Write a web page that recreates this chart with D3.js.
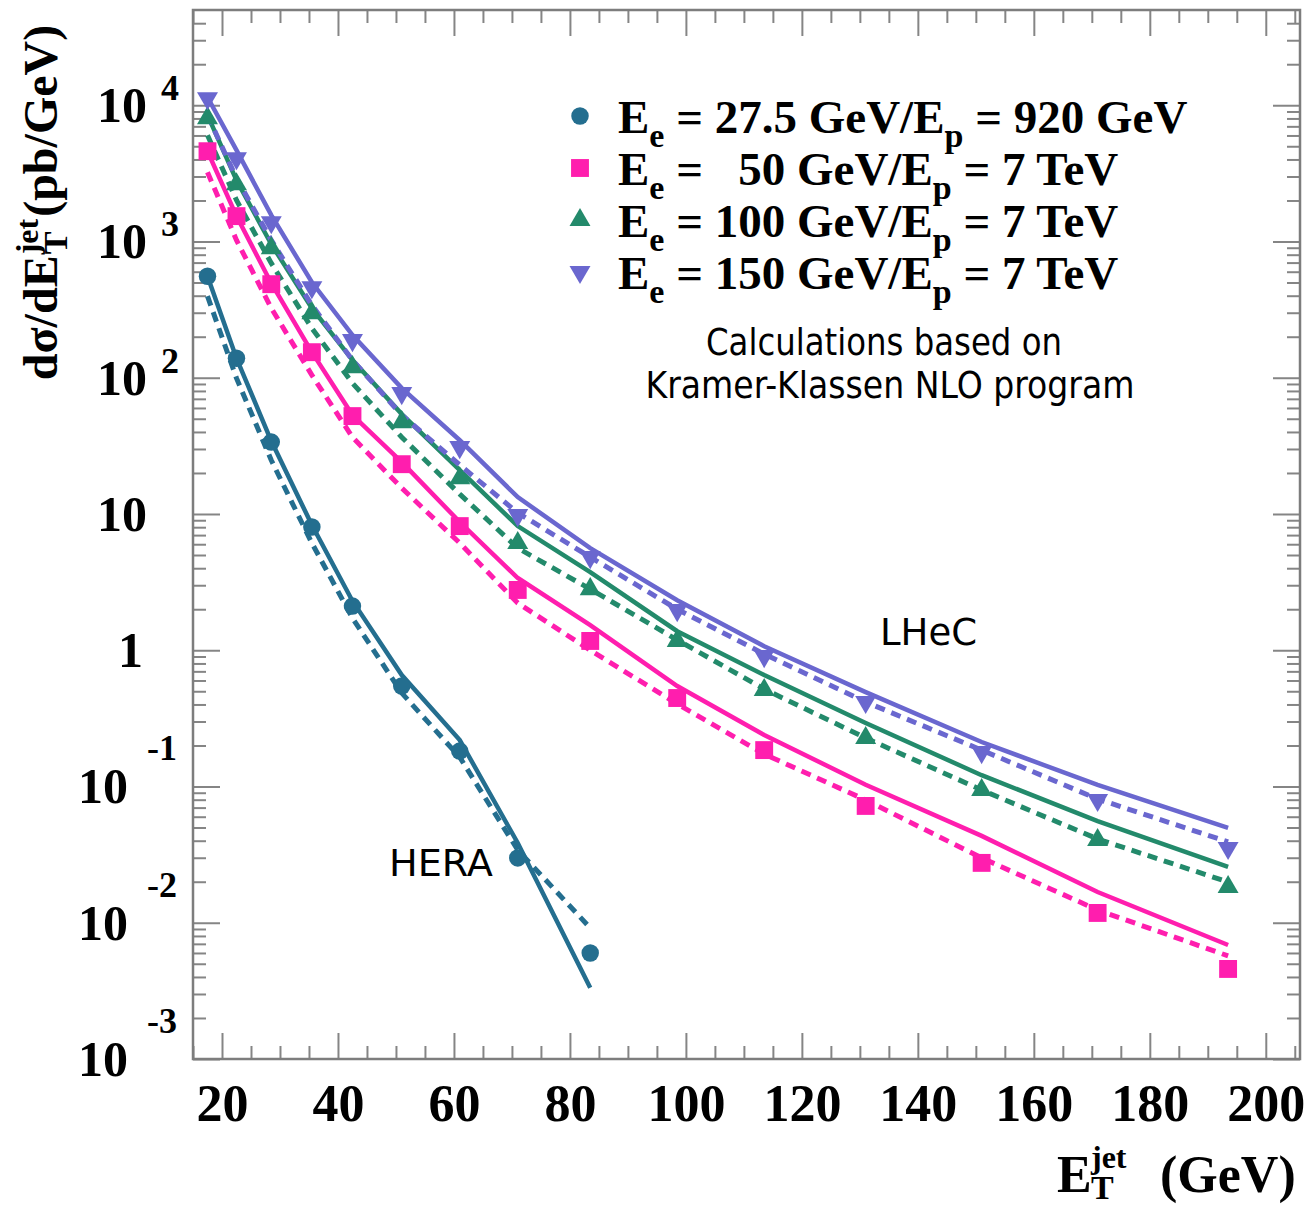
<!DOCTYPE html>
<html lang="en">
<head>
  <meta charset="UTF-8">
  <title>Inclusive jet cross section: HERA vs LHeC</title>
  <script src="https://d3js.org/d3.v7.min.js"></script>
  <style>
    body { margin: 0; background: #fff; }
    svg { display: block; }
    .serif { font-family: "Liberation Serif", "Times New Roman", serif; font-weight: bold; fill: #000; }
    .note { font-family: "DejaVu Sans", Verdana, sans-serif; fill: #000; }
    .axis line { stroke: #858585; stroke-width: 2; }
    .axis path { display: none; }
  </style>
</head>
<body>
<div id="chart"></div>
<script>
  // ---- data ----
  const etBins = [17.5, 22.5, 28.5, 35.5, 42.5, 51, 61, 71, 83.5, 98.5, 113.5, 131, 151, 171, 193.5];
  const heraBins = [17.5, 22.5, 28.5, 35.5, 42.5, 51, 61, 71, 83.5];

  // Ee = 27.5 GeV / Ep = 920 GeV (HERA)
  const heraSolid  = [556, 139, 34.3, 8.30, 2.30, 0.658, 0.219, 0.0385, 0.00333];
  const heraDashed = [397, 99.3, 24.8, 6.12, 1.72, 0.485, 0.164, 0.0342, 0.00916];
  const heraPoints = [556, 139, 33.7, 8.02, 2.11, 0.546, 0.182, 0.0299, 0.0060];

  // Ee = 50 GeV / Ep = 7 TeV
  const e50Solid  = [4598, 1535, 494, 154, 53.2, 24.0, 8.73, 3.39, 1.53, 0.546, 0.239, 0.103, 0.0434, 0.0168, 0.00687];
  const e50Dashed = [3224, 1023, 324, 104.5, 36.6, 15.5, 6.12, 2.22, 1.00, 0.404, 0.173, 0.0796, 0.0299, 0.0124, 0.00571];
  const e50Points = [4598, 1535, 486, 154, 52.3, 23.2, 8.15, 2.77, 1.17, 0.446, 0.185, 0.0720, 0.0275, 0.0118, 0.00458];

  // Ee = 100 GeV / Ep = 7 TeV
  const e100Solid  = [8450, 2816, 955, 324, 134.7, 54.1, 21.0, 8.15, 3.75, 1.38, 0.658, 0.292, 0.121, 0.0558, 0.0257];
  const e100Dashed = [6026, 2010, 693, 231, 91.3, 36.6, 14.0, 5.62, 2.81, 1.19, 0.519, 0.227, 0.0942, 0.0412, 0.0199];
  const e100Points = [8030, 2630, 893, 298, 119.6, 47.2, 18.3, 6.12, 2.81, 1.17, 0.511, 0.227, 0.0942, 0.0405, 0.0183];

  // Ee = 150 GeV / Ep = 7 TeV
  const e150Solid  = [11450, 4677, 1560, 502, 205.6, 83.9, 34.8, 13.3, 5.62, 2.33, 1.07, 0.493, 0.212, 0.1026, 0.0497];
  const e150Dashed = [8450, 2913, 1023, 341, 134.7, 53.2, 22.9, 10.2, 4.83, 2.00, 0.938, 0.417, 0.185, 0.0809, 0.0392];
  const e150Points = [11250, 4083, 1386, 462, 189, 77.1, 31.0, 9.82, 4.83, 1.97, 0.906, 0.417, 0.179, 0.0796, 0.0354];

  const eeLabels = ["27.5", "  50", "100", "150"];
  const epLabels = ["920 GeV", "7 TeV", "7 TeV", "7 TeV"];
  const xTicks = [20, 40, 60, 80, 100, 120, 140, 160, 180, 200];
  const yTicks = [1e-3, 1e-2, 1e-1, 1, 10, 1e2, 1e3, 1e4];

  const series = [
    {bins: heraBins, solid: heraSolid, dashed: heraDashed, points: heraPoints, color: "#246e8f", symbol: "circle"},
    {bins: etBins, solid: e50Solid, dashed: e50Dashed, points: e50Points, color: "#ff1eae", symbol: "square"},
    {bins: etBins, solid: e100Solid, dashed: e100Dashed, points: e100Points, color: "#238a6b", symbol: "up"},
    {bins: etBins, solid: e150Solid, dashed: e150Dashed, points: e150Points, color: "#6a67cf", symbol: "down"}
  ];

  // ---- layout ----
  const width = 1307, height = 1205;
  const plotL = 193, plotR = 1300, plotT = 10, plotB = 1059;

  const svg = d3.select("#chart").append("svg")
    .attr("width", width)
    .attr("height", height);

  const x = d3.scaleLinear().domain([15, 205.9]).range([plotL, plotR]);
  const y = d3.scaleLog().domain([1e-3, 5e4]).range([plotB, plotT]);

  // minor tick values
  const xMinor = d3.range(15, 206, 5).filter(v => v % 20 !== 0);
  const yMinor = [];
  for (let k = -3; k <= 4; k++) {
    for (let m = 2; m <= 9; m++) {
      const v = m * Math.pow(10, k);
      if (v < 5e4) yMinor.push(v);
    }
  }

  // ticks on all four sides, pointing inwards
  const axes = svg.append("g").attr("class", "axis");
  axes.append("g").attr("transform", `translate(0,${plotB})`)
    .call(d3.axisBottom(x).tickValues(xMinor).tickSize(-13).tickFormat(""));
  const xAx = axes.append("g").attr("transform", `translate(0,${plotB})`)
    .call(d3.axisBottom(x).tickValues(xTicks).tickSize(-26).tickPadding(0).tickFormat(d3.format("d")));
  xAx.selectAll("text")
    .attr("class", "serif")
    .attr("dy", null)
    .attr("y", 62)
    .style("font-size", "52px");
  axes.append("g").attr("transform", `translate(0,${plotT})`)
    .call(d3.axisTop(x).tickValues(xMinor).tickSize(-13).tickFormat(""));
  axes.append("g").attr("transform", `translate(0,${plotT})`)
    .call(d3.axisTop(x).tickValues(xTicks).tickSize(-26).tickFormat(""));

  axes.append("g").attr("transform", `translate(${plotL},0)`)
    .call(d3.axisLeft(y).tickValues(yMinor).tickSize(-13).tickFormat(""));
  axes.append("g").attr("transform", `translate(${plotL},0)`)
    .call(d3.axisLeft(y).tickValues(yTicks).tickSize(-27).tickFormat(""));
  axes.append("g").attr("transform", `translate(${plotR},0)`)
    .call(d3.axisRight(y).tickValues(yMinor).tickSize(-13).tickFormat(""));
  axes.append("g").attr("transform", `translate(${plotR},0)`)
    .call(d3.axisRight(y).tickValues(yTicks).tickSize(-27).tickFormat(""));

  svg.append("rect")
    .attr("x", plotL).attr("y", plotT)
    .attr("width", plotR - plotL).attr("height", plotB - plotT)
    .attr("fill", "none")
    .attr("stroke", "#7d7d7d")
    .attr("stroke-width", 2.5);

  // y tick labels, ROOT style "10^n"
  const yLab = svg.append("g").attr("class", "serif");
  yTicks.forEach(v => {
    const e = Math.round(Math.log10(v));
    const ty = y(v);
    if (e === 0) {
      yLab.append("text").attr("x", 143).attr("y", ty + 17)
        .attr("text-anchor", "end").style("font-size", "50px").text("1");
    } else if (e === 1) {
      yLab.append("text").attr("x", 147).attr("y", ty + 17)
        .attr("text-anchor", "end").style("font-size", "50px").text("10");
    } else if (e > 0) {
      yLab.append("text").attr("x", 147).attr("y", ty + 17)
        .attr("text-anchor", "end").style("font-size", "50px").text("10");
      yLab.append("text").attr("x", 161).attr("y", ty - 5)
        .style("font-size", "36px").text(e);
    } else {
      yLab.append("text").attr("x", 128).attr("y", ty + 17)
        .attr("text-anchor", "end").style("font-size", "50px").text("10");
      yLab.append("text").attr("x", 147).attr("y", ty - 26)
        .style("font-size", "36px").text(e);
    }
  });

  // ---- curves ----
  const line = d3.line().x(d => x(d[0])).y(d => y(d[1]));
  const plot = svg.append("g");

  series.forEach(s => {
    plot.append("path")
      .datum(s.bins.map((b, i) => [b, s.dashed[i]]))
      .attr("d", line)
      .attr("fill", "none")
      .attr("stroke", s.color)
      .attr("stroke-width", 5)
      .attr("stroke-dasharray", "10,7");
    plot.append("path")
      .datum(s.bins.map((b, i) => [b, s.solid[i]]))
      .attr("d", line)
      .attr("fill", "none")
      .attr("stroke", s.color)
      .attr("stroke-width", 4.5);
  });

  const symbolPath = {
    circle: d3.symbol(d3.symbolCircle, 240)(),
    square: d3.symbol(d3.symbolSquare, 320)(),
    up: d3.symbol(d3.symbolTriangle, 190)(),
    down: d3.symbol(d3.symbolTriangle, 190)()
  };
  const symbolRot = {circle: 0, square: 0, up: 0, down: 180};

  series.forEach(s => {
    plot.append("g").selectAll("path")
      .data(s.bins.map((b, i) => [b, s.points[i]]))
      .join("path")
      .attr("d", symbolPath[s.symbol])
      .attr("transform", d => `translate(${x(d[0])},${y(d[1])}) rotate(${symbolRot[s.symbol]})`)
      .attr("fill", s.color);
  });

  // ---- legend ----
  const legend = svg.append("g");
  series.forEach((s, i) => {
    const base = 133 + i * 52;
    legend.append("path")
      .attr("d", symbolPath[s.symbol])
      .attr("transform", `translate(580,${base - 17}) rotate(${symbolRot[s.symbol]})`)
      .attr("fill", s.color);
    const t = legend.append("text")
      .attr("class", "serif")
      .attr("x", 618).attr("y", base)
      .style("font-size", "47px")
      .style("white-space", "pre");
    t.append("tspan").text("E");
    t.append("tspan").attr("dy", 14).style("font-size", "34px").text("e");
    t.append("tspan").attr("dy", -14).text(" = " + eeLabels[i] + " GeV/E");
    t.append("tspan").attr("dy", 14).style("font-size", "34px").text("p");
    t.append("tspan").attr("dy", -14).text(" = " + epLabels[i]);
  });

  // ---- annotations ----
  const notes = [
    {text: "Calculations based on", x: 884, y: 355, len: 356, anchor: "middle"},
    {text: "Kramer-Klassen NLO program", x: 890, y: 398, len: 489, anchor: "middle"},
    {text: "LHeC", x: 880, y: 645, len: 97, anchor: "start"},
    {text: "HERA", x: 389, y: 876, len: 104, anchor: "start"}
  ];
  notes.forEach(n => {
    svg.append("text")
      .attr("class", "note")
      .attr("x", n.x).attr("y", n.y)
      .attr("text-anchor", n.anchor)
      .attr("textLength", n.len)
      .attr("lengthAdjust", "spacingAndGlyphs")
      .style("font-size", "38px")
      .text(n.text);
  });

  // ---- axis titles ----
  const xt = svg.append("g").attr("class", "serif");
  xt.append("text").attr("x", 1057).attr("y", 1192).style("font-size", "52px").text("E");
  xt.append("text").attr("x", 1091).attr("y", 1168).style("font-size", "32px").text("jet");
  xt.append("text").attr("x", 1091).attr("y", 1199).style("font-size", "34px").text("T");
  xt.append("text").attr("x", 1160).attr("y", 1192).style("font-size", "52px").text("(GeV)");

  // y title: built left-to-right then rotated
  const yt = svg.append("g").attr("class", "serif");
  const part1 = yt.append("text").attr("x", 0).attr("y", 0).style("font-size", "48px").text("dσ/dE");
  const w1 = part1.node().getComputedTextLength();
  const sup = yt.append("text").attr("x", w1 + 1).attr("y", -19).style("font-size", "32px").text("jet");
  const sub = yt.append("text").attr("x", w1 + 1).attr("y", 10).style("font-size", "34px").text("T");
  const w2 = Math.max(sup.node().getComputedTextLength(), sub.node().getComputedTextLength());
  const part3 = yt.append("text").attr("x", w1 + w2 + 3).attr("y", 0).style("font-size", "48px").text("(pb/GeV)");
  const total = w1 + w2 + 3 + part3.node().getComputedTextLength();
  yt.attr("transform", `translate(57,${390}) rotate(-90)`);
  yt.selectAll("text").attr("dx", (390 - 15 - total) / 2);
</script>
</body>
</html>
